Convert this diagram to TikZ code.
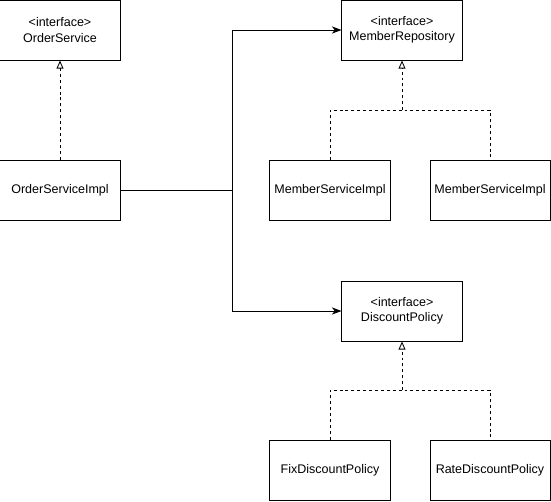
\documentclass[tikz,border=0pt]{standalone}
\usepackage{fontspec}
\setmainfont{Liberation Sans}
\usetikzlibrary{arrows.meta,positioning}

\begin{document}
\begin{tikzpicture}[x=0.025cm,y=-0.025cm]
\tikzset{
  classbox/.style={rectangle,draw=black,line width=0.7pt,minimum width=3cm,minimum height=1.5cm,inner sep=1pt,align=center,font=\fontsize{8.9}{10.8}\selectfont},
  classedge/.style={draw=black,line width=0.7pt,line cap=butt,line join=miter},
  assoc/.style={classedge,-{Stealth[length=2.4mm,width=1.8mm,inset=0.7mm]}},
  dashedge/.style={classedge,dash pattern=on 2.1pt off 2.1pt},
  realize/.style={dashedge,-{Triangle[open,length=2.0mm,width=1.7mm,line width=0.6pt]}}
}
\useasboundingbox (0,0) rectangle (551,501);
\node[classbox] (n_OS) at (60,30) {<interface>\\OrderService};
\node[classbox] (n_OSI) at (60,190) {OrderServiceImpl};
\node[classbox] (n_MR) at (402,30) {<interface>\\MemberRepository};
\node[classbox] (n_MSI1) at (330,190) {MemberServiceImpl};
\node[classbox] (n_MSI2) at (490,190) {MemberServiceImpl};
\node[classbox] (n_DP) at (402,311) {<interface>\\DiscountPolicy};
\node[classbox] (n_FDP) at (330,470) {FixDiscountPolicy};
\node[classbox] (n_RDP) at (490,470) {RateDiscountPolicy};
\coordinate (c_split) at (232,190);
\coordinate (j_MR) at (402,110);
\coordinate (j_DP) at (402,390);
% realization
\draw[realize] (n_OSI.north) -- (n_OS.south);
\draw[dashedge] (n_MSI1.north) |- (j_MR) -| (n_MSI2.north);
\draw[realize] (j_MR) -- (n_MR.south);
\draw[dashedge] (n_FDP.north) |- (j_DP) -| (n_RDP.north);
\draw[realize] (j_DP) -- (n_DP.south);
% dependencies
\draw[classedge] (n_OSI.east) -- (c_split);
\draw[assoc] (c_split) |- (n_MR.west);
\draw[assoc] (c_split) |- (n_DP.west);
\end{tikzpicture}
\end{document}
